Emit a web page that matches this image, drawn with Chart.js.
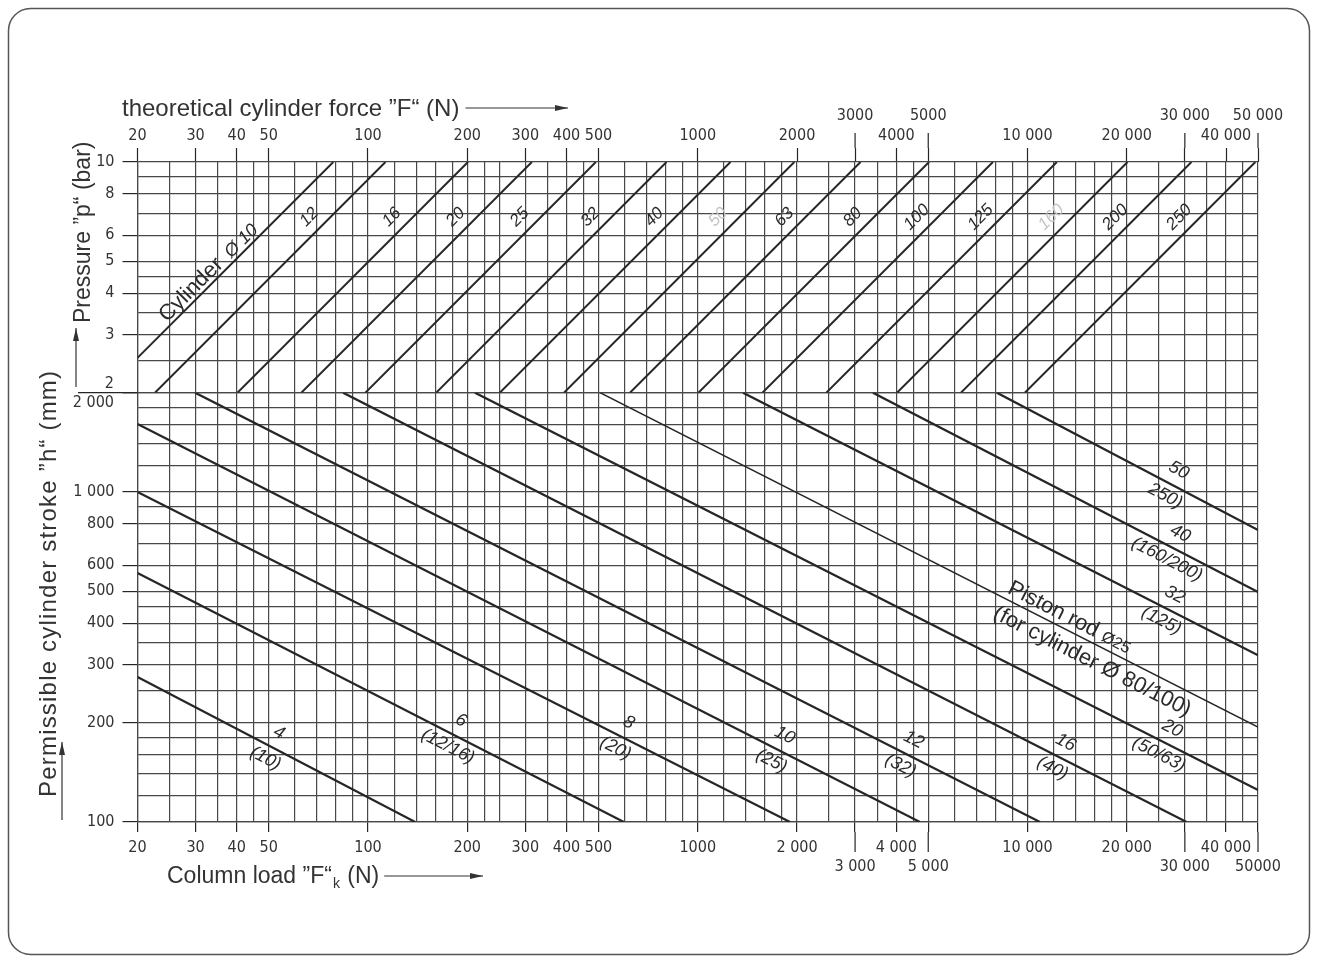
<!DOCTYPE html>
<html>
<head>
<meta charset="utf-8">
<title>Cylinder force and column load nomogram</title>
<script src="https://cdn.jsdelivr.net/npm/chart.js@4.4.1/dist/chart.umd.min.js"></script>
<style>
  html, body { margin: 0; padding: 0; background: #fff; }
  #wrap { position: relative; width: 1317px; height: 962px; }
</style>
</head>
<body>
<div id="wrap"><canvas id="nomo"></canvas></div>
<script>
// --- log paper: grid values and labelled ticks ---
const forceGrid = [20, 25, 30, 35, 40, 45, 50, 60, 70, 80, 90, 100, 120, 140, 160, 180, 200, 225, 250,
  300, 350, 400, 450, 500, 600, 700, 800, 900, 1000, 1200, 1400, 1600, 1800, 2000, 2500, 3000, 3500,
  4000, 4500, 5000, 6000, 7000, 8000, 9000, 10000, 12000, 14000, 16000, 18000, 20000, 25000, 30000,
  35000, 40000, 45000, 50000]
const forceLabels = [20, 30, 40, 50, 100, 200, 300, 400, 500, 1000, 2000, 3000, 4000, 5000, 10000, 20000, 30000, 40000, 50000]
const forceTextTop = ['20', '30', '40', '50', '100', '200', '300', '400', '500', '1000', '2000', '3000', '4000', '5000',
  '10 000', '20 000', '30 000', '40 000', '50 000']
const forceTextBottom = ['20', '30', '40', '50', '100', '200', '300', '400', '500', '1000', '2 000', '3 000', '4 000', '5 000',
  '10 000', '20 000', '30 000', '40 000', '50000']
const forceStaggered = [3000, 5000, 30000, 50000]

const pressureGrid = [2, 2.5, 3, 3.5, 4, 4.5, 5, 6, 7, 8, 9, 10]
const pressureLabels = [2, 3, 4, 5, 6, 8, 10]

const strokeGrid = [100, 120, 140, 160, 180, 200, 250, 300, 350, 400, 450, 500, 600, 700, 800, 900,
  1000, 1200, 1400, 1600, 1800, 2000]
const strokeLabels = [100, 200, 300, 400, 500, 600, 800, 1000, 2000]
const strokeText = ['100', '200', '300', '400', '500', '600', '800', '1 000', '2 000']

// --- upper field: cylinder diameter lines (force vs pressure) ---
const cylinderDia = [10, 12, 16, 20, 25, 32, 40, 50, 63, 80, 100, 125, 160, 200, 250]
const cylForceLow = [20, 22.6, 40.2, 62.8, 98.2, 161, 251, 393, 623, 1005, 1571, 2454, 4021, 6283, 9817]
const cylPressLow = [2.55, 2, 2, 2, 2, 2, 2, 2, 2, 2, 2, 2, 2, 2, 2]
const cylForceHigh = [78.5, 113, 201, 314, 491, 804, 1257, 1963, 3117, 5027, 7854, 12272, 20106, 31416, 49087]
const cylPressHigh = [10, 10, 10, 10, 10, 10, 10, 10, 10, 10, 10, 10, 10, 10, 10]

// --- lower field: piston rod lines (column load vs permissible stroke) ---
const rodDia = ['4', '6', '8', '10', '12', '16', '20', '25', '32', '40', '50']
const rodCylinders = ['(10)', '(12/16)', '(20)', '(25)', '(32)', '(40)', '(50/63)', '(for cylinder Ø 80/100)', '(125)', '(160/200)', '250)']
const rodLoadStart = [20, 20, 20, 20, 29.9, 84, 211, 505, 1371, 3397, 8073]
const rodStrokeStart = [275, 568, 1000, 1606, 2000, 2000, 2000, 2000, 2000, 2000, 2000]
const rodLoadEnd = [139, 597, 1904, 4716, 10906, 30361, 50000, 50000, 50000, 50000, 50000]
const rodStrokeEnd = [100, 100, 100, 100, 100, 100, 125, 194, 320, 498, 767]

// where the hand lettering sits along each line
const cylLabelPressure = 6.8
const rodLabelLoad = [51, 182, 587, 1744, 4293, 12405, 26100, 14618, 26560, 27600, 27300]
const fadedCylLabels = [50, 160]

const INK = '#262626'
const GRID_INK = '#484848'
const NUM_FAMILY = '"Liberation Sans Narrow", "DejaVu Sans Condensed", "Arial Narrow", sans-serif'
const TEXT_FAMILY = '"Liberation Sans", Arial, Helvetica, sans-serif'

const datasets = []
cylinderDia.forEach((d, i) => {
  datasets.push({
    label: 'Cylinder Ø' + d,
    data: [{ x: cylForceLow[i], y: cylPressLow[i] }, { x: cylForceHigh[i], y: cylPressHigh[i] }],
    xAxisID: 'x', yAxisID: 'yP',
    borderColor: INK, borderWidth: 2, pointRadius: 0
  })
})
rodDia.forEach((d, i) => {
  datasets.push({
    label: 'Piston rod Ø' + d,
    data: [{ x: rodLoadStart[i], y: rodStrokeStart[i] }, { x: rodLoadEnd[i], y: rodStrokeEnd[i] }],
    xAxisID: 'x', yAxisID: 'yH',
    borderColor: INK, borderWidth: d === '25' ? 1.6 : 2.2, pointRadius: 0
  })
})

const useGrid = values => scale => { scale.ticks = values.map(v => ({ value: v })) }
const tickInk = labels => ctx => (ctx.tick && labels.includes(ctx.tick.value)) ? INK : 'rgba(0,0,0,0)'
const numFont = { family: NUM_FAMILY, size: 16 }

function arrow(ctx, x1, y1, x2, y2) {
  ctx.beginPath()
  ctx.moveTo(x1, y1)
  ctx.lineTo(x2, y2)
  ctx.stroke()
  const a = Math.atan2(y2 - y1, x2 - x1)
  const len = 13, half = 3
  ctx.beginPath()
  ctx.moveTo(x2, y2)
  ctx.lineTo(x2 - len * Math.cos(a) + half * Math.sin(a), y2 - len * Math.sin(a) - half * Math.cos(a))
  ctx.lineTo(x2 - len * Math.cos(a) - half * Math.sin(a), y2 - len * Math.sin(a) + half * Math.cos(a))
  ctx.closePath()
  ctx.fill()
}

function rotatedText(ctx, text, x, y, angle, dx, dy) {
  ctx.save()
  ctx.translate(x, y)
  ctx.rotate(angle)
  ctx.fillText(text, dx, dy)
  ctx.restore()
}

const nomogramText = {
  id: 'nomogramText',
  beforeDraw(chart) {
    const { ctx } = chart
    ctx.save()
    ctx.fillStyle = '#fff'
    ctx.fillRect(0, 0, chart.width, chart.height)
    ctx.strokeStyle = '#555'
    ctx.lineWidth = 1.5
    ctx.beginPath()
    ctx.roundRect(8.5, 8.5, 1301, 946, 22)
    ctx.stroke()
    ctx.restore()
  },
  afterDraw(chart) {
    const { ctx, chartArea } = chart
    const xs = chart.scales.x
    const yP = chart.scales.yP
    const yH = chart.scales.yH
    const seam = yP.getPixelForValue(2)
    ctx.save()
    ctx.strokeStyle = INK
    ctx.fillStyle = INK
    ctx.lineWidth = 1.2

    // longer ticks under the staggered force labels
    forceStaggered.forEach(v => {
      const px = xs.getPixelForValue(v)
      ctx.beginPath()
      ctx.moveTo(px, chartArea.top - 14); ctx.lineTo(px, chartArea.top - 29)
      ctx.moveTo(px, chartArea.bottom + 10); ctx.lineTo(px, chartArea.bottom + 30)
      ctx.stroke()
    })
    // seam between the two fields runs out to the left
    ctx.beginPath()
    ctx.moveTo(78, seam); ctx.lineTo(chartArea.left, seam)
    ctx.stroke()

    ctx.font = '16px ' + NUM_FAMILY
    ctx.fillStyle = '#333'
    ctx.textAlign = 'right'
    ctx.textBaseline = 'middle'
    ctx.fillText('2', 114, seam - 9)
    ctx.fillText('2 000', 114, seam + 10)

    // axis titles
    ctx.font = '24px ' + TEXT_FAMILY
    ctx.fillStyle = '#333'
    ctx.strokeStyle = '#333'
    ctx.textAlign = 'left'
    ctx.textBaseline = 'alphabetic'
    const topTitle = 'theoretical cylinder force ”F“ (N)'
    ctx.fillText(topTitle, 122, 116)
    const tw = ctx.measureText(topTitle).width
    arrow(ctx, 122 + tw + 6, 108, 568, 108)

    ctx.font = '23px ' + TEXT_FAMILY
    const bot1 = 'Column load ”F“'
    ctx.fillText(bot1, 167, 883)
    let bx = 167 + ctx.measureText(bot1).width
    ctx.font = '14px ' + TEXT_FAMILY
    ctx.fillText('k', bx + 1, 888)
    bx += ctx.measureText('k').width + 2
    ctx.font = '23px ' + TEXT_FAMILY
    ctx.fillText(' (N)', bx, 883)
    bx += ctx.measureText(' (N)').width
    arrow(ctx, bx + 5, 876, 483, 876)

    rotatedText(ctx, 'Pressure ”p“ (bar)', 90, 323, -Math.PI / 2, 0, 0)
    arrow(ctx, 76, 387, 76, 328)
    ctx.save()
    ctx.font = '24px ' + TEXT_FAMILY
    ctx.letterSpacing = '1.2px'
    rotatedText(ctx, 'Permissible cylinder stroke ”h“ (mm)', 56, 797, -Math.PI / 2, 0, 0)
    ctx.restore()
    arrow(ctx, 62, 820, 62, 742)

    // cylinder lettering
    ctx.textAlign = 'center'
    ctx.textBaseline = 'middle'
    cylinderDia.forEach((d, i) => {
      const a = { x: xs.getPixelForValue(cylForceLow[i]), y: yP.getPixelForValue(cylPressLow[i]) }
      const b = { x: xs.getPixelForValue(cylForceHigh[i]), y: yP.getPixelForValue(cylPressHigh[i]) }
      const ang = Math.atan2(b.y - a.y, b.x - a.x)
      if (i === 0) {
        const py = 281
        const px = a.x + (py - a.y) / (b.y - a.y) * (b.x - a.x)
        ctx.save()
        ctx.translate(px, py)
        ctx.rotate(ang)
        ctx.textBaseline = 'alphabetic'
        ctx.fillStyle = '#2b2b2b'
        ctx.font = '22px ' + TEXT_FAMILY
        const w1 = ctx.measureText('Cylinder ').width
        ctx.font = 'italic 18px ' + TEXT_FAMILY
        const w2 = ctx.measureText('Ø 10').width
        ctx.textAlign = 'left'
        ctx.font = '22px ' + TEXT_FAMILY
        ctx.fillText('Cylinder ', -(w1 + w2) / 2, -4)
        ctx.font = 'italic 18px ' + TEXT_FAMILY
        ctx.fillText('Ø 10', -(w1 + w2) / 2 + w1 + 4, -4)
        ctx.restore()
        return
      }
      const py = yP.getPixelForValue(cylLabelPressure)
      const px = a.x + (py - a.y) / (b.y - a.y) * (b.x - a.x)
      ctx.font = 'italic 17px ' + TEXT_FAMILY
      ctx.fillStyle = fadedCylLabels.includes(d) ? '#c4c4c4' : '#2b2b2b'
      rotatedText(ctx, String(d), px - 21, py, ang, 0, 0)
    })

    // piston rod lettering
    rodDia.forEach((d, i) => {
      const a = { x: xs.getPixelForValue(rodLoadStart[i]), y: yH.getPixelForValue(rodStrokeStart[i]) }
      const b = { x: xs.getPixelForValue(rodLoadEnd[i]), y: yH.getPixelForValue(rodStrokeEnd[i]) }
      const ang = Math.atan2(b.y - a.y, b.x - a.x)
      const px = xs.getPixelForValue(rodLabelLoad[i])
      const py = a.y + (px - a.x) / (b.x - a.x) * (b.y - a.y)
      ctx.save()
      ctx.translate(px, py)
      ctx.rotate(ang)
      ctx.fillStyle = '#2b2b2b'
      if (d === '25') {
        ctx.textAlign = 'left'
        ctx.textBaseline = 'alphabetic'
        ctx.font = '22px ' + TEXT_FAMILY
        const w1 = ctx.measureText('Piston rod ').width
        ctx.font = '16px ' + TEXT_FAMILY
        const w2 = ctx.measureText('Ø25').width
        ctx.font = '22px ' + TEXT_FAMILY
        ctx.fillText('Piston rod ', -20 - (w1 + w2) / 2, -6)
        ctx.font = '16px ' + TEXT_FAMILY
        ctx.fillText('Ø25', -20 - (w1 + w2) / 2 + w1, -6)
        ctx.textAlign = 'center'
        ctx.font = '22px ' + TEXT_FAMILY
        ctx.fillText(rodCylinders[i], 20, 23)
      } else {
        ctx.textAlign = 'center'
        ctx.textBaseline = 'middle'
        ctx.font = 'italic 18px ' + TEXT_FAMILY
        ctx.fillText(d, 0, -16)
        ctx.fillText(rodCylinders[i], 0, 13)
      }
      ctx.restore()
    })
    ctx.restore()
  }
}

new Chart(document.getElementById('nomo'), {
  type: 'line',
  data: { datasets },
  options: {
    responsive: true,
    maintainAspectRatio: false,
    animation: false,
    events: [],
    layout: { padding: { left: 0, top: 0, right: 59, bottom: 0 } },
    plugins: { legend: { display: false }, tooltip: { enabled: false } },
    scales: {
      x: {
        type: 'logarithmic', position: 'bottom', min: 20, max: 50000,
        afterBuildTicks: useGrid(forceGrid),
        afterFit: s => { s.height = 140 },
        grid: { color: GRID_INK, lineWidth: 1.2, tickLength: 10, tickWidth: 1.2, tickColor: tickInk(forceLabels) },
        border: { color: GRID_INK, width: 1.2 },
        ticks: {
          autoSkip: false, maxRotation: 0, minRotation: 0, padding: 6, color: '#333', font: numFont,
          callback: v => {
            const k = forceLabels.indexOf(v)
            if (k < 0) return ''
            return forceStaggered.includes(v) ? ['', forceTextBottom[k]] : forceTextBottom[k]
          }
        }
      },
      x2: {
        type: 'logarithmic', position: 'top', min: 20, max: 50000,
        afterBuildTicks: useGrid(forceGrid),
        afterFit: s => { s.height = 162 },
        grid: { drawOnChartArea: false, tickLength: 14, tickWidth: 1.2, tickColor: tickInk(forceLabels) },
        border: { display: false },
        ticks: {
          autoSkip: false, maxRotation: 0, minRotation: 0, padding: 3, color: '#333', font: numFont,
          callback: v => {
            const k = forceLabels.indexOf(v)
            if (k < 0) return ''
            return forceStaggered.includes(v) ? [forceTextTop[k], ''] : forceTextTop[k]
          }
        }
      },
      yH: {
        type: 'logarithmic', position: 'left', stack: 'fields', stackWeight: Math.log10(2000 / 100),
        min: 100, max: 2000,
        afterBuildTicks: useGrid(strokeGrid),
        afterFit: s => { s.width = 137.5 },
        grid: { color: GRID_INK, lineWidth: 1.2, tickLength: 15, tickWidth: 1.2, tickColor: tickInk(strokeLabels) },
        border: { color: GRID_INK, width: 1.2 },
        ticks: {
          autoSkip: false, padding: 8, color: '#333', font: numFont,
          callback: v => {
            const k = strokeLabels.indexOf(v)
            return (k < 0 || v === 2000) ? '' : strokeText[k]
          }
        }
      },
      yP: {
        type: 'logarithmic', position: 'left', stack: 'fields', stackWeight: Math.log10(10 / 2),
        min: 2, max: 10,
        afterBuildTicks: useGrid(pressureGrid),
        afterFit: s => { s.width = 137.5 },
        grid: { color: GRID_INK, lineWidth: 1.2, tickLength: 15, tickWidth: 1.2, tickColor: tickInk(pressureLabels) },
        border: { color: GRID_INK, width: 1.2 },
        ticks: {
          autoSkip: false, padding: 8, color: '#333', font: numFont,
          callback: v => (pressureLabels.includes(v) && v !== 2) ? String(v) : ''
        }
      }
    }
  },
  plugins: [nomogramText]
})
</script>
</body>
</html>
